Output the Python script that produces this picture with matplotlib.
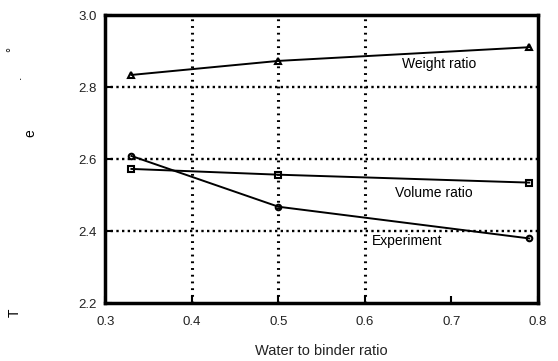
import matplotlib.pyplot as plt

plt.rcParams['font.family'] = ['Liberation Sans', 'DejaVu Sans']

wb = [0.33, 0.50, 0.79]
weight_ratio = [2.834, 2.873, 2.911]
volume_ratio = [2.573, 2.557, 2.535]
experiment = [2.609, 2.468, 2.380]

x_grid = [0.4, 0.5, 0.6]
y_grid = [2.4, 2.6, 2.8]

fig = plt.figure(figsize=(5.58, 3.61), dpi=100)
ax = fig.add_axes([0.189, 0.160, 0.775, 0.798])

for xv in x_grid:
    ax.axvline(xv, color='black', linestyle=(0, (0.6, 1.6)), linewidth=2.2, zorder=1)
for yv in y_grid:
    ax.axhline(yv, color='black', linestyle=(0, (1, 1.4)), linewidth=1.7, zorder=1)

ax.plot(wb, weight_ratio, '-^', color='black', lw=1.4, ms=5, mfc='none', mew=1.5)
ax.plot(wb, volume_ratio, '-s', color='black', lw=1.4, ms=4, mfc='none', mew=1.5)
ax.plot(wb, experiment, '-o', color='black', lw=1.4, ms=4, mfc='none', mew=1.5)

ax.text(0.643, 2.864, 'Weight ratio', fontsize=10, va='center')
ax.text(0.635, 2.507, 'Volume ratio', fontsize=10, va='center')
ax.text(0.608, 2.374, 'Experiment', fontsize=10, va='center')

ax.set_xlim(0.3, 0.8)
ax.set_ylim(2.2, 3.0)
ax.set_xticks([0.3, 0.4, 0.5, 0.6, 0.7, 0.8])
ax.set_yticks([2.2, 2.4, 2.6, 2.8, 3.0])
ax.set_xticklabels(['0.3', '0.4', '0.5', '0.6', '0.7', '0.8'])
ax.set_yticklabels(['2.2', '2.4', '2.6', '2.8', '3.0'])
ax.tick_params(direction='in', length=5, width=1.5, labelsize=9.5, pad=6,
               labelcolor='#222222')
ax.tick_params(axis='x', pad=9)
for s in ax.spines.values():
    s.set_linewidth(2.5)
ax.set_xlabel('Water to binder ratio', fontsize=10.5, labelpad=12, color='#222222')

# broken y-axis label as it appears in the figure
fig.text(12 / 558, 1 - 50 / 361, '°', rotation=90, fontsize=9, ha='center', va='center')
fig.text(18 / 558, 1 - 77 / 361, '.', rotation=90, fontsize=9, ha='center', va='center')
fig.text(30 / 558, 1 - 133 / 361, 'e', rotation=90, fontsize=10, ha='center', va='center')
fig.text(15 / 558, 1 - 313 / 361, 'T', rotation=90, fontsize=10, ha='center', va='center')

fig.savefig('out.png', dpi=100)
